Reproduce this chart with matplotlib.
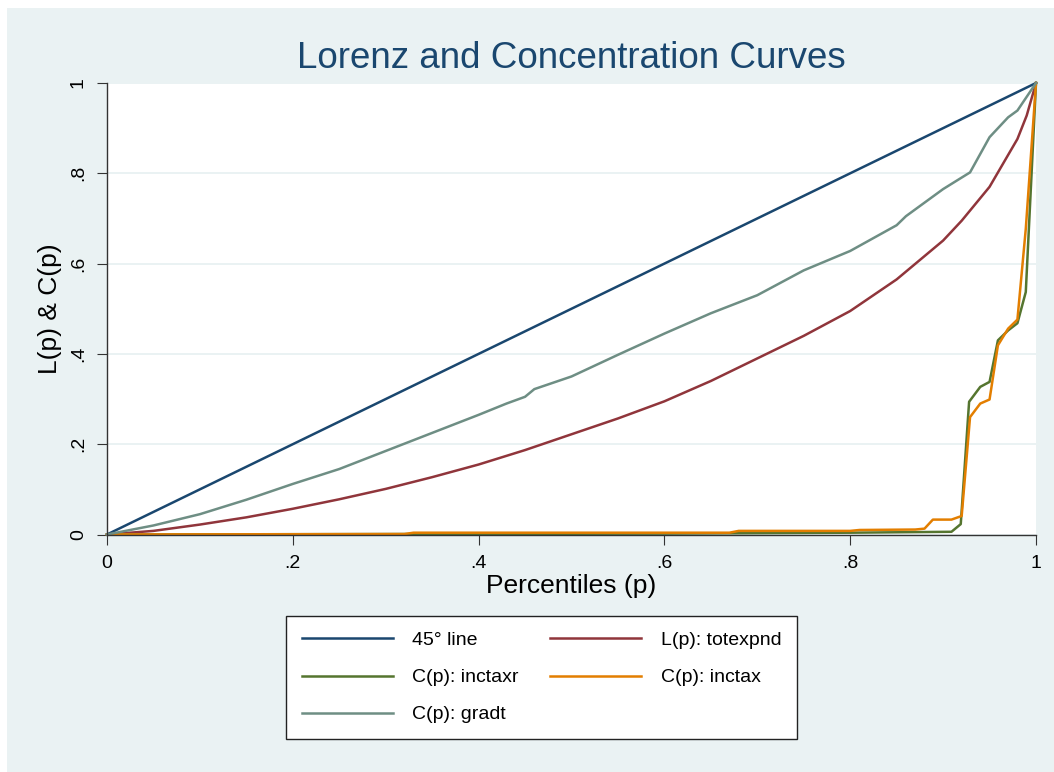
import matplotlib
matplotlib.use('Agg')
import matplotlib.pyplot as plt
from matplotlib.patches import Rectangle

# Lorenz / concentration curves
p45 = [0, 1]
l45 = [0, 1]

p_lor = [0, 0.05, 0.1, 0.15, 0.2, 0.25, 0.3, 0.35, 0.4, 0.45, 0.5, 0.55, 0.6,
         0.65, 0.7, 0.75, 0.8, 0.85, 0.9, 0.92, 0.95, 0.98, 0.99, 1]
lor = [0, 0.008, 0.022, 0.038, 0.057, 0.078, 0.101, 0.127, 0.155, 0.187, 0.222,
       0.257, 0.295, 0.34, 0.39, 0.44, 0.495, 0.565, 0.651, 0.695, 0.77, 0.876,
       0.928, 1]

p_inctaxr = [0, 0.3, 0.6, 0.8, 0.909, 0.919, 0.928, 0.94, 0.95, 0.959, 0.97,
             0.98, 0.989, 1]
inctaxr = [0, 0.001, 0.002, 0.004, 0.006, 0.023, 0.294, 0.327, 0.338, 0.43,
           0.452, 0.468, 0.537, 1]

p_inctax = [0, 0.32, 0.33, 0.67, 0.68, 0.8, 0.81, 0.87, 0.88, 0.889, 0.909,
            0.92, 0.929, 0.94, 0.95, 0.959, 0.97, 0.98, 0.989, 1]
inctax = [0, 0.001, 0.004, 0.004, 0.008, 0.008, 0.01, 0.011, 0.013, 0.033,
          0.033, 0.041, 0.26, 0.29, 0.299, 0.419, 0.456, 0.476, 0.677, 1]

p_gradt = [0, 0.05, 0.1, 0.15, 0.2, 0.25, 0.3, 0.35, 0.4, 0.43, 0.45, 0.46,
           0.5, 0.55, 0.6, 0.65, 0.7, 0.75, 0.8, 0.85, 0.86, 0.9, 0.918, 0.929,
           0.95, 0.97, 0.98, 1]
gradt = [0, 0.02, 0.045, 0.077, 0.112, 0.145, 0.185, 0.225, 0.265, 0.29, 0.305,
         0.322, 0.35, 0.398, 0.445, 0.49, 0.53, 0.585, 0.628, 0.685, 0.705,
         0.765, 0.788, 0.802, 0.88, 0.924, 0.939, 1]

ticks = [0, 0.2, 0.4, 0.6, 0.8, 1]
ticklabels = ['0', '.2', '.4', '.6', '.8', '1']

#####################################
# GENERAL PLOT SETTINGS             #
#####################################
plt.rcParams['font.family'] = ['Liberation Sans', 'DejaVu Sans']
bg = '#EAF2F3'
navy = '#1A476F'
maroon = '#90353B'
forest = '#55752F'
dkorange = '#E37E00'
teal = '#6E8E84'

fig = plt.figure(figsize=(10.54, 7.72), dpi=100)
fig.patch.set_facecolor('white')
fig.patches.append(Rectangle((7/1054., 0), 1, 1 - 8/772., transform=fig.transFigure,
                             facecolor=bg, edgecolor='none', zorder=-10))

ax = fig.add_axes([107/1054., 1 - 534.5/772., 929/1054., 451.5/772.])
ax.set_facecolor('white')

lw = 1.8
h45, = ax.plot(p45, l45, color=navy, lw=lw, label=u'45\u00b0 line', clip_on=False)
hl, = ax.plot(p_lor, lor, color=maroon, lw=lw, label='L(p): totexpnd', clip_on=False)
hr, = ax.plot(p_inctaxr, inctaxr, color=forest, lw=lw, label='C(p): inctaxr', clip_on=False)
hi, = ax.plot(p_inctax, inctax, color=dkorange, lw=lw, label='C(p): inctax', clip_on=False)
hg, = ax.plot(p_gradt, gradt, color=teal, lw=lw, label='C(p): gradt', clip_on=False)

ax.set_xlim(0, 1)
ax.set_ylim(0, 1)
ax.set_xticks(ticks)
ax.set_xticklabels(ticklabels)
ax.set_yticks(ticks)
ax.set_yticklabels(ticklabels, rotation=90, va='center')
ax.tick_params(axis='both', direction='out', length=7.5, width=0.8, color='#333333',
               labelsize=14, pad=7)
ax.yaxis.grid(True, color=bg, lw=1.4)
ax.set_axisbelow(True)
for s in ['top', 'right']:
    ax.spines[s].set_visible(False)
for s in ['left', 'bottom']:
    ax.spines[s].set_color('#333333')
    ax.spines[s].set_linewidth(1.0)

ax.set_xlabel('Percentiles (p)', fontsize=19, labelpad=2)
ax.set_ylabel('L(p) & C(p)', fontsize=19, labelpad=6)
fig.text(571.5/1054., 1 - 58/772., 'Lorenz and Concentration Curves', fontsize=26.5,
         color=navy, ha='center', va='center')

leg = fig.legend([h45, hr, hg, hl, hi],
                 [h.get_label() for h in [h45, hr, hg, hl, hi]],
                 ncol=2, loc='center', bbox_to_anchor=(541.5/1054., 1 - 677.5/772.),
                 fontsize=14, frameon=True, fancybox=False, framealpha=1,
                 facecolor='white', handlelength=4.7, handletextpad=1.0,
                 columnspacing=1.6, labelspacing=1.0, borderpad=0.8,
                 borderaxespad=0)
leg.get_frame().set_edgecolor('#222222')
leg.get_frame().set_linewidth(1.0)

plt.savefig('out.png', dpi=100, facecolor=fig.get_facecolor())
